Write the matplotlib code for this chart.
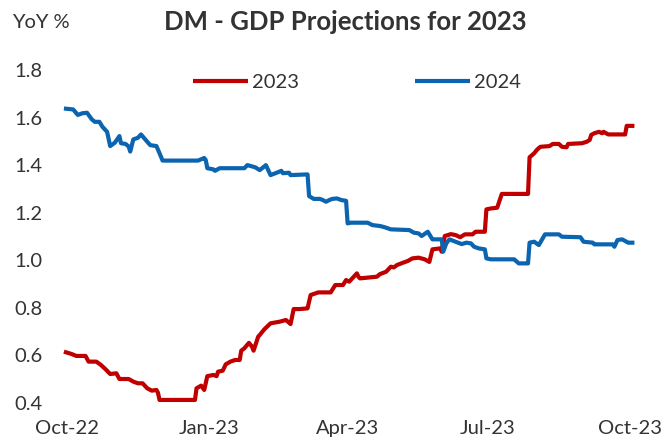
import numpy as np
import pandas as pd
import matplotlib
matplotlib.use("Agg")
import matplotlib.pyplot as plt
import matplotlib.dates as mdates

plt.rcParams['font.family'] = ['Lato', 'DejaVu Sans']

# consensus GDP projections for DM economies, % YoY
dates_2023 = ['2022-09-29', '2022-10-04', '2022-10-07', '2022-10-13', '2022-10-15', '2022-10-20',
              '2022-10-23', '2022-10-26', '2022-10-29', '2022-11-02', '2022-11-04', '2022-11-10',
              '2022-11-13', '2022-11-16', '2022-11-19', '2022-11-22', '2022-11-25', '2022-11-28',
              '2022-11-29', '2022-11-30', '2022-12-23', '2022-12-24', '2022-12-27', '2022-12-29',
              '2022-12-31', '2023-01-04', '2023-01-06', '2023-01-07', '2023-01-10', '2023-01-12',
              '2023-01-15', '2023-01-18', '2023-01-21', '2023-01-22', '2023-01-24', '2023-01-27',
              '2023-01-29', '2023-01-30', '2023-02-02', '2023-02-03', '2023-02-06', '2023-02-10',
              '2023-02-16', '2023-02-20', '2023-02-23', '2023-02-25', '2023-03-01', '2023-03-06',
              '2023-03-08', '2023-03-13', '2023-03-21', '2023-03-24', '2023-03-29', '2023-03-31',
              '2023-04-02', '2023-04-05', '2023-04-07', '2023-04-08', '2023-04-09', '2023-04-20',
              '2023-04-22', '2023-04-26', '2023-04-29', '2023-05-01', '2023-05-03', '2023-05-07',
              '2023-05-10', '2023-05-13', '2023-05-17', '2023-05-21', '2023-05-24', '2023-05-26',
              '2023-05-31', '2023-06-01', '2023-06-03', '2023-06-07', '2023-06-10', '2023-06-13',
              '2023-06-16', '2023-06-21', '2023-06-23', '2023-06-29', '2023-06-30', '2023-07-03',
              '2023-07-07', '2023-07-10', '2023-07-27', '2023-07-28', '2023-07-31', '2023-08-02',
              '2023-08-04', '2023-08-10', '2023-08-12', '2023-08-16', '2023-08-18', '2023-08-21',
              '2023-08-22', '2023-08-31', '2023-09-03', '2023-09-05', '2023-09-06', '2023-09-08',
              '2023-09-11', '2023-09-13', '2023-09-14', '2023-09-17', '2023-09-28', '2023-09-29',
              '2023-10-04']
gdp_2023 = [0.616, 0.606, 0.598, 0.598, 0.574, 0.574, 0.560, 0.542, 0.522, 0.525, 0.501, 0.501,
            0.490, 0.483, 0.483, 0.462, 0.452, 0.455, 0.443, 0.413, 0.413, 0.462, 0.473, 0.455,
            0.513, 0.518, 0.513, 0.532, 0.536, 0.563, 0.574, 0.581, 0.581, 0.620, 0.630, 0.653,
            0.637, 0.620, 0.679, 0.686, 0.710, 0.735, 0.742, 0.749, 0.732, 0.795, 0.795, 0.798,
            0.854, 0.865, 0.865, 0.896, 0.896, 0.917, 0.910, 0.931, 0.945, 0.931, 0.924, 0.931,
            0.942, 0.952, 0.973, 0.970, 0.980, 0.990, 0.997, 1.008, 1.011, 1.004, 0.993, 1.046,
            1.050, 1.036, 1.102, 1.110, 1.106, 1.097, 1.109, 1.109, 1.120, 1.120, 1.214, 1.218,
            1.221, 1.279, 1.279, 1.433, 1.450, 1.466, 1.477, 1.480, 1.489, 1.489, 1.477, 1.475,
            1.489, 1.492, 1.498, 1.506, 1.527, 1.534, 1.540, 1.534, 1.540, 1.529, 1.529, 1.565,
            1.565]

dates_2024 = ['2022-09-29', '2022-10-05', '2022-10-08', '2022-10-11', '2022-10-14', '2022-10-17',
              '2022-10-19', '2022-10-22', '2022-10-24', '2022-10-27', '2022-10-29', '2022-11-01',
              '2022-11-04', '2022-11-05', '2022-11-08', '2022-11-10', '2022-11-11', '2022-11-13',
              '2022-11-16', '2022-11-18', '2022-11-21', '2022-11-24', '2022-11-28', '2022-11-30',
              '2022-12-02', '2022-12-25', '2022-12-29', '2022-12-30', '2022-12-31', '2023-01-04',
              '2023-01-05', '2023-01-08', '2023-01-24', '2023-01-26', '2023-01-31', '2023-02-03',
              '2023-02-07', '2023-02-10', '2023-02-14', '2023-02-17', '2023-02-18', '2023-02-22',
              '2023-02-23', '2023-03-06', '2023-03-07', '2023-03-10', '2023-03-14', '2023-03-16',
              '2023-03-18', '2023-03-20', '2023-03-22', '2023-03-25', '2023-03-28', '2023-03-31',
              '2023-04-01', '2023-04-03', '2023-04-14', '2023-04-17', '2023-04-22', '2023-04-25',
              '2023-04-29', '2023-05-11', '2023-05-14', '2023-05-17', '2023-05-19', '2023-05-23',
              '2023-05-26', '2023-06-01', '2023-06-02', '2023-06-04', '2023-06-06', '2023-06-10',
              '2023-06-14', '2023-06-17', '2023-06-20', '2023-06-22', '2023-06-25', '2023-06-29',
              '2023-06-30', '2023-07-03', '2023-07-18', '2023-07-21', '2023-07-27', '2023-07-28',
              '2023-07-31', '2023-08-03', '2023-08-07', '2023-08-16', '2023-08-18', '2023-08-30',
              '2023-09-01', '2023-09-07', '2023-09-08', '2023-09-20', '2023-09-21', '2023-09-23',
              '2023-09-26', '2023-09-30', '2023-10-04']
gdp_2024 = [1.638, 1.634, 1.611, 1.618, 1.620, 1.593, 1.582, 1.582, 1.561, 1.540, 1.480, 1.494,
            1.522, 1.492, 1.489, 1.478, 1.457, 1.508, 1.515, 1.529, 1.506, 1.484, 1.480, 1.450,
            1.419, 1.419, 1.430, 1.421, 1.387, 1.382, 1.376, 1.387, 1.387, 1.400, 1.391, 1.379,
            1.400, 1.358, 1.368, 1.376, 1.366, 1.368, 1.358, 1.361, 1.270, 1.258, 1.258, 1.253,
            1.246, 1.253, 1.258, 1.260, 1.253, 1.250, 1.155, 1.158, 1.158, 1.148, 1.144, 1.139,
            1.130, 1.127, 1.116, 1.113, 1.102, 1.120, 1.088, 1.088, 1.036, 1.071, 1.088, 1.078,
            1.068, 1.074, 1.071, 1.057, 1.050, 1.046, 1.008, 1.004, 1.004, 0.987, 0.987, 1.074,
            1.078, 1.064, 1.109, 1.109, 1.099, 1.097, 1.078, 1.074, 1.067, 1.067, 1.057, 1.085,
            1.088, 1.074, 1.074]

red = '#C00000'
blue = '#0B64B0'
txt = '#333333'

fig = plt.figure(figsize=(6.7, 4.42), dpi=100)
ax = fig.add_axes([0.0885, 0.0774, 0.8676, 0.7751])

ax.plot(pd.to_datetime(dates_2023), gdp_2023, color=red, lw=3, label='2023',
        solid_joinstyle='round', solid_capstyle='butt', clip_on=False)
ax.plot(pd.to_datetime(dates_2024), gdp_2024, color=blue, lw=3, label='2024',
        solid_joinstyle='round', solid_capstyle='butt', clip_on=False)

ax.set_xlim(pd.Timestamp('2022-09-26'), pd.Timestamp('2023-10-08'))
ax.set_ylim(0.38, 1.82)
ax.set_yticks(np.arange(0.4, 1.81, 0.2))
ax.yaxis.set_major_formatter(matplotlib.ticker.FormatStrFormatter('%.1f'))
ax.xaxis.set_major_locator(mdates.MonthLocator(bymonth=(1, 4, 7, 10)))
ax.xaxis.set_major_formatter(mdates.DateFormatter('%b-%y'))

for s in ax.spines.values():
    s.set_visible(False)
ax.tick_params(axis='both', length=0, labelsize=14.5, labelcolor=txt)
ax.tick_params(axis='y', pad=12.3)
ax.tick_params(axis='x', pad=9)

ax.legend(loc='center', bbox_to_anchor=(357 / 670, 1 - 82 / 442), bbox_transform=fig.transFigure,
          ncol=2, frameon=False, fontsize=14.5, handlelength=2.7, handletextpad=0.2,
          columnspacing=5.8, labelcolor=txt)

fig.text(0.018, 1 - 22 / 442, 'YoY %', fontsize=14.5, color=txt, va='center', ha='left')
fig.text(345 / 670, 1 - 22 / 442, 'DM - GDP Projections for 2023', fontsize=18.5,
         fontweight='bold', color=txt, va='center', ha='center')

fig.savefig('out.png', dpi=100)
